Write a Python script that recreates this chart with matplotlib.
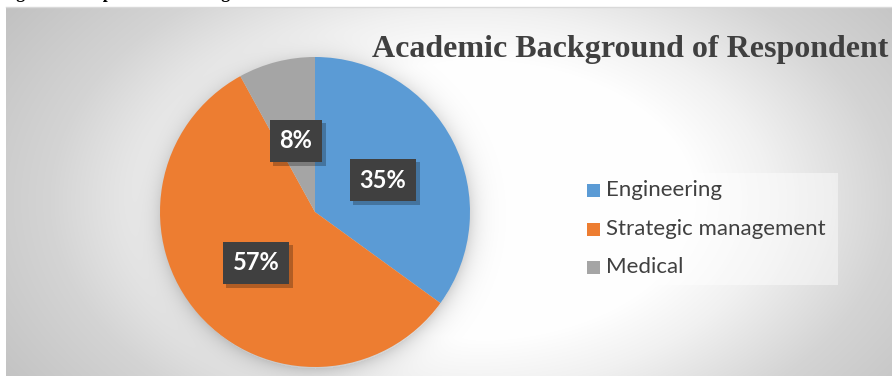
import numpy as np
import matplotlib
matplotlib.use("Agg")
import matplotlib.pyplot as plt
import matplotlib.patheffects as pe
from matplotlib.patches import Rectangle

# ---- data ----
categories = ["Engineering", "Strategic management", "Medical"]
shares = [35, 57, 8]
colors = ["#5b9bd5", "#ed7d31", "#a5a5a5"]
title = "Academic Background of Respondent"
caption = "Figure 1: Respondent's Background"

W, H = 892, 376

fig = plt.figure(figsize=(W / 100, H / 100), dpi=100)
ax = fig.add_axes([0, 0, 1, 1])
ax.set_xlim(0, W)
ax.set_ylim(0, H)
ax.axis("off")

# ---- background gradient (pixel coords, y down) ----
yy, xx = np.mgrid[0:H, 0:W].astype(float)
d = np.sqrt(((xx - 470) / 400) ** 2 + ((yy - 200) / 250) ** 2)
drop = np.interp(d, [0.55, 0.75, 1.05, 1.4, 2.0], [0, 14, 43, 62, 75])
# soft shadow around the pie
cx, cy, r = 315, 212, 155
dp = np.sqrt((xx - cx) ** 2 + (yy - cy - 3) ** 2)
shadow = np.where(dp > r - 2, np.exp(-(dp - r) / 10), 1.0)
val = (255 - drop) * (1 - 0.14 * shadow)
bg = np.dstack([val, val, val]) / 255.0
bg[:7, :, :] = 1.0
bg[:, :6, :] = 1.0
ax.imshow(bg, extent=(0, W, 0, H), origin="upper", aspect="auto",
          interpolation="bilinear", zorder=0)
ax.plot([6, W], [H - 6.5, H - 6.5], color="#d9d9d9", lw=1, zorder=1)

# ---- pie ----
ax.pie(shares, colors=colors, startangle=90, counterclock=False,
       center=(cx, H - cy), radius=r, frame=True,
       wedgeprops=dict(linewidth=0), normalize=True)
ax.set_xlim(0, W)
ax.set_ylim(0, H)
ax.set_aspect("auto")
ax.axis("off")

# ---- data labels ----
label_pos = [(383, 180), (256, 263), (296, 141)]
for (lx, ly), s in zip(label_pos, shares):
    t = ax.text(lx, H - ly, f"{s}%", color="white", fontsize=17,
                fontweight="bold", family="Lato", ha="center", va="center",
                bbox=dict(boxstyle="square,pad=0.42", fc="#404040", ec="none"),
                zorder=5)
    t.get_bbox_patch().set_path_effects(
        [pe.SimplePatchShadow(offset=(2.5, -2.5), shadow_rgbFace="black", alpha=0.25),
         pe.Normal()])

# ---- title & caption ----
ax.text(630, H - 57, title, fontsize=23, fontweight="bold",
        family="Liberation Serif", color="#404040", ha="center",
        va="baseline", zorder=5)
ax.text(0, H + 1.5, caption, fontsize=13, fontweight="bold",
        family="Liberation Serif", color="black", ha="left",
        va="baseline", zorder=5)

# ---- legend ----
ax.add_patch(Rectangle((574, H - 285), 264, 112, fc="white", alpha=0.45,
                       ec="none", zorder=3))
leg_y = [190, 229, 267]
for ly, name, c in zip(leg_y, categories, colors):
    ax.add_patch(Rectangle((587, H - ly - 6.5), 13, 13, fc=c, ec="none", zorder=5))
    ax.text(606, H - ly, name, fontsize=16, family="Lato", color="#404040",
            ha="left", va="center", zorder=5)

fig.savefig("out.png", dpi=100)
